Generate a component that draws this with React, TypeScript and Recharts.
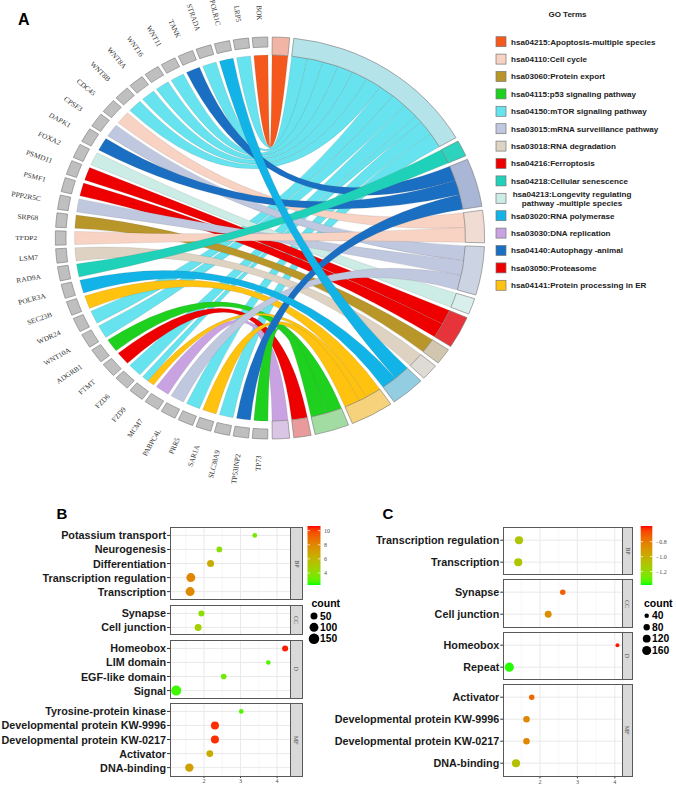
import React from "react";
import {
  PieChart, Pie, Cell, Customized,
  ScatterChart, Scatter, XAxis, YAxis, ZAxis, ReferenceLine,
} from "recharts";

/* ================= Panel A : chord data ================= */
const genes = [
  "BOK", "LRP5", "POLR1C", "STRADA", "TANK", "WNT11", "WNT16", "WNT8A", "WNT8B",
  "CDC45", "CPSF3", "DAPK1", "FOXA2", "PSMD11", "PSMF1", "PPP2R5C", "SRP68",
  "TFDP2", "LSM7", "RAD9A", "POLR3A", "SEC23B", "WDR24", "WNT10A", "ADGRB1",
  "FTMT", "FZD6", "FZD9", "MCM7", "PABPC4L", "PRR5", "SAR1A", "SLC38A9",
  "TP53INP2", "TP73",
];

// pathway sectors, clockwise from the top
const pathwayIds = [
  "hsa04215", "hsa04150", "hsa04218", "hsa04140", "hsa04110", "hsa03015",
  "hsa04213", "hsa03050", "hsa03060", "hsa03018", "hsa03020", "hsa04141",
  "hsa04115", "hsa04216", "hsa03030",
];
const pathwayLabels = [
  "hsa04215:Apoptosis-multiple species",
  "hsa04150:mTOR signaling pathway",
  "hsa04218:Cellular senescence",
  "hsa04140:Autophagy -animal",
  "hsa04110:Cell cycle",
  "hsa03015:mRNA surveillance pathway",
  "hsa04213:Longevity regulating\npathway -multiple species",
  "hsa03050:Proteasome",
  "hsa03060:Protein export",
  "hsa03018:RNA degradation",
  "hsa03020:RNA polymerase",
  "hsa04141:Protein processing in ER",
  "hsa04115:p53 signaling pathway",
  "hsa04216:Ferroptosis",
  "hsa03030:DNA replication",
];
const legendOrder = [
  "hsa04215", "hsa04110", "hsa03060", "hsa04115", "hsa04150", "hsa03015",
  "hsa03018", "hsa04216", "hsa04218", "hsa04213", "hsa03020", "hsa03030",
  "hsa04140", "hsa03050", "hsa04141",
];
// gene -> pathway links (weight)
const links: Array<[string, string, number]> = [
  ["BOK", "hsa04215", 1], ["LRP5", "hsa04150", 1], ["POLR1C", "hsa03020", 1],
  ["STRADA", "hsa04150", 1], ["TANK", "hsa04140", 1], ["WNT11", "hsa04150", 1],
  ["WNT16", "hsa04150", 1], ["WNT8A", "hsa04150", 1], ["WNT8B", "hsa04150", 1],
  ["CDC45", "hsa04110", 1], ["CPSF3", "hsa03015", 1], ["DAPK1", "hsa04140", 1],
  ["FOXA2", "hsa04213", 1], ["PSMD11", "hsa03050", 1], ["PSMF1", "hsa03050", 1],
  ["PPP2R5C", "hsa03015", 1], ["SRP68", "hsa03060", 1], ["TFDP2", "hsa04110", 1],
  ["LSM7", "hsa03018", 1], ["RAD9A", "hsa04218", 1], ["POLR3A", "hsa03020", 1],
  ["SEC23B", "hsa04141", 1], ["WDR24", "hsa04150", 1], ["WNT10A", "hsa04150", 1],
  ["ADGRB1", "hsa04115", 1], ["FTMT", "hsa04216", 1], ["FZD6", "hsa04150", 1],
  ["FZD9", "hsa04150", 0.5], ["FZD9", "hsa04141", 0.5], ["MCM7", "hsa03030", 1],
  ["PABPC4L", "hsa03015", 1], ["PRR5", "hsa04150", 1], ["SAR1A", "hsa04141", 1],
  ["SLC38A9", "hsa04150", 1], ["TP53INP2", "hsa04140", 1], ["TP73", "hsa04115", 1],
];

/* styles for panel A (same order as pathwayIds) */
const ribbonColors = [
  "#f4581c", "#66e3ee", "#1fd1b9", "#1a6fc2", "#f8d2c2", "#c0c8e0", "#ccede6",
  "#ee0000", "#b8962a", "#ded3c3", "#12b3e6", "#ffc20e", "#1fd11f", "#ee0000", "#c9a2e2",
];
const arcColors = [
  "#f2b5a5", "#b4e3ea", "#2dd3bd", "#a9b6d6", "#f1dcd4", "#ccd3e2", "#d9efec",
  "#e6343a", "#d3c6ae", "#dedad4", "#93cde2", "#f6d27c", "#a3dca3", "#e99a9a", "#dac5e6",
];

/* ================= Panel B data ================= */
const facetNames = ["BP", "CC", "D", "MF"];

const termsB_BP = ["Potassium transport", "Neurogenesis", "Differentiation", "Transcription regulation", "Transcription"];
const foldB_BP = [3.39, 2.42, 2.18, 1.64, 1.62];
const countB_BP = [8, 23, 50, 100, 102];
const colorB_BP = [3.5, 4.0, 6.5, 8.0, 7.9];

const termsB_CC = ["Synapse", "Cell junction"];
const foldB_CC = [1.93, 1.84];
const countB_CC = [30, 48];
const colorB_CC = [4.0, 4.8];

const termsB_D = ["Homeobox", "LIM domain", "EGF-like domain", "Signal"];
const foldB_D = [4.22, 3.76, 2.54, 1.24];
const countB_D = [30, 5, 22, 135];
const colorB_D = [10.5, 2.8, 3.3, 2.6];

const termsB_MF = ["Tyrosine-protein kinase", "Developmental protein KW-9996", "Developmental protein KW-0217", "Activator", "DNA-binding"];
const foldB_MF = [3.02, 2.3, 2.3, 2.16, 1.6];
const countB_MF = [6, 75, 75, 45, 85];
const colorB_MF = [2.8, 10.3, 10.3, 6.5, 7.0];

const colorBreaksB = [4, 6, 8, 10];
const countBreaksB = [50, 100, 150];

/* ================= Panel C data ================= */
const termsC_BP = ["Transcription regulation", "Transcription"];
const foldC_BP = [1.44, 1.42];
const countC_BP = [130, 130];
const colorC_BP = [-1.1, -1.1];

const termsC_CC = ["Synapse", "Cell junction"];
const foldC_CC = [2.61, 2.22];
const countC_CC = [60, 95];
const colorC_CC = [-0.72, -0.87];

const termsC_D = ["Homeobox", "Repeat"];
const foldC_D = [4.07, 1.18];
const countC_D = [30, 165];
const colorC_D = [-0.6, -1.37];

const termsC_MF = ["Activator", "Developmental protein KW-9996", "Developmental protein KW-0217", "DNA-binding"];
const foldC_MF = [1.78, 1.64, 1.64, 1.36];
const countC_MF = [60, 85, 85, 130];
const colorC_MF = [-0.74, -0.84, -0.84, -1.08];

const colorBreaksC = [-0.8, -1.0, -1.2];
const countBreaksC = [40, 80, 120, 160];

/* ================= helpers ================= */
const SANS = "'Liberation Sans', Arial, sans-serif";
const SERIF = "'Liberation Serif', 'Times New Roman', serif";

function hexToRgb(h: string) {
  const n = parseInt(h.slice(1), 16);
  return [(n >> 16) & 255, (n >> 8) & 255, n & 255];
}
function toLab(hex: string) {
  const lin = hexToRgb(hex).map((c) => {
    const v = c / 255;
    return v <= 0.04045 ? v / 12.92 : Math.pow((v + 0.055) / 1.055, 2.4);
  });
  const [r, g, b] = lin;
  const X = (0.4124564 * r + 0.3575761 * g + 0.1804375 * b) / 0.95047;
  const Y = 0.2126729 * r + 0.7151522 * g + 0.072175 * b;
  const Z = (0.0193339 * r + 0.119192 * g + 0.9503041 * b) / 1.08883;
  const f = (t: number) => (t > 0.008856 ? Math.cbrt(t) : 7.787 * t + 16 / 116);
  const fx = f(X), fy = f(Y), fz = f(Z);
  return [116 * fy - 16, 500 * (fx - fy), 200 * (fy - fz)];
}
function fromLab([L, a, b]: number[]) {
  const fy = (L + 16) / 116, fx = fy + a / 500, fz = fy - b / 200;
  const inv = (t: number) => (t * t * t > 0.008856 ? t * t * t : (t - 16 / 116) / 7.787);
  const X = inv(fx) * 0.95047, Y = inv(fy), Z = inv(fz) * 1.08883;
  const lin = [
    3.2404542 * X - 1.5371385 * Y - 0.4985314 * Z,
    -0.969266 * X + 1.8760108 * Y + 0.041556 * Z,
    0.0556434 * X - 0.2040259 * Y + 1.0572252 * Z,
  ];
  const s = lin.map((v) => {
    const c = Math.max(0, Math.min(1, v));
    const g = c <= 0.0031308 ? 12.92 * c : 1.055 * Math.pow(c, 1 / 2.4) - 0.055;
    return Math.round(g * 255);
  });
  return `rgb(${s[0]},${s[1]},${s[2]})`;
}
const LAB_LOW = toLab("#00ff00");
const LAB_HIGH = toLab("#ff0000");
function gradT(t: number) {
  const u = Math.max(0, Math.min(1, t));
  return fromLab(LAB_LOW.map((v, i) => v + (LAB_HIGH[i] - v) * u));
}
function gradColor(v: number, dom: [number, number]) {
  return gradT((v - dom[0]) / (dom[1] - dom[0]));
}

/* ================= chord geometry ================= */
const CX = 270, CY = 238;
const R_OUT = 201, R_GENE_IN = 191, R_RIB = 183, R_LABEL = 218;
const GENE_START = 90.6, GENE_END = 269.4, GENE_PAD = 1.0;
const PW_START = 89.4, PW_END = -89.4, PW_PAD = 1.1;

const geneWeights = genes.map((g) => links.filter((l) => l[0] === g).reduce((a, l) => a + l[2], 0));
const pathWeights = pathwayIds.map((p) => links.filter((l) => l[1] === p).reduce((a, l) => a + l[2], 0));

// same arithmetic as the Pie sector layout
function layoutAngles(values: number[], start: number, end: number, pad: number) {
  const sign = Math.sign(end - start);
  const sum = values.reduce((a, b) => a + b, 0);
  const real = Math.abs(end - start) - (values.length - 1) * pad;
  const out: { s: number; e: number }[] = [];
  let prev = start;
  values.forEach((v, i) => {
    const s = i === 0 ? start : prev + sign * pad;
    const e = s + sign * (v / sum) * real;
    out.push({ s, e });
    prev = e;
  });
  return out;
}

function pt(r: number, deg: number) {
  const rad = (deg * Math.PI) / 180;
  return `${(CX + r * Math.cos(rad)).toFixed(2)},${(CY - r * Math.sin(rad)).toFixed(2)}`;
}

function RibbonLayer() {
  const gA = layoutAngles(geneWeights, GENE_START, GENE_END, GENE_PAD);
  const pA = layoutAngles(pathWeights, PW_START, PW_END, PW_PAD);
  const items = links.map(([g, p, w]) => ({ gi: genes.indexOf(g), pi: pathwayIds.indexOf(p), w }));
  const gOff = genes.map(() => 0);
  const pOff = pathwayIds.map(() => 0);
  const gSlot: number[][] = [];
  const pSlot: number[][] = [];
  items.map((_, k) => k)
    .sort((a, b) => items[a].gi - items[b].gi || items[a].pi - items[b].pi)
    .forEach((k) => {
      const { gi, w } = items[k];
      const { s, e } = gA[gi];
      const unit = (e - s) / geneWeights[gi];
      const a1 = s + gOff[gi] * unit;
      gSlot[k] = [a1, a1 + w * unit];
      gOff[gi] += w;
    });
  items.map((_, k) => k)
    .sort((a, b) => items[a].gi - items[b].gi)
    .forEach((k) => {
      const { pi, w } = items[k];
      const { s, e } = pA[pi];
      const unit = (s - e) / pathWeights[pi];
      const b1 = s - pOff[pi] * unit;
      pSlot[k] = [b1, b1 - w * unit];
      pOff[pi] += w;
    });
  const rank = (pi: number) => (pathwayIds[pi] === "hsa04150" ? 0 : pathwayIds[pi] === "hsa03020" ? 2 : 1);
  const order = items.map((_, k) => k).sort((a, b) => rank(items[a].pi) - rank(items[b].pi) || a - b);
  const r = R_RIB;
  return (
    <g>
      {order.map((k) => {
        const [a1, a2] = gSlot[k];
        const [b1, b2] = pSlot[k];
        const d = `M${pt(r, a2)} A${r},${r} 0 0 1 ${pt(r, a1)} Q${CX},${CY} ${pt(r, b1)} A${r},${r} 0 0 1 ${pt(r, b2)} Q${CX},${CY} ${pt(r, a2)} Z`;
        return (
          <path key={k} d={d} fill={ribbonColors[items[k].pi]} stroke="rgba(90,90,90,0.35)" strokeWidth={0.4} />
        );
      })}
    </g>
  );
}

const renderGeneLabel = (props: any) => {
  const mid = props.midAngle as number;
  const name = props.name ?? genes[props.index];
  const rad = (mid * Math.PI) / 180;
  const x = props.cx + R_LABEL * Math.cos(rad);
  const y = props.cy - R_LABEL * Math.sin(rad);
  const rot = 180 - mid;
  return (
    <text x={x} y={y} transform={`rotate(${rot},${x},${y})`} textAnchor="end" dominantBaseline="central"
      fontSize={7} fontFamily={SERIF} fill="#333">
      {name}
    </text>
  );
};

function ChordPanel() {
  const geneData = genes.map((g, i) => ({ name: g, value: geneWeights[i] }));
  const pathData = pathwayIds.map((p, i) => ({ name: p, value: pathWeights[i] }));
  return (
    <div style={{ position: "absolute", left: 0, top: 0, width: 540, height: 500, transform: "scaleX(1.068)", transformOrigin: `${CX}px ${CY}px` }}>
      <PieChart width={540} height={500} margin={{ top: 0, right: 0, bottom: 0, left: 0 }}>
        <Customized component={RibbonLayer} />
        <Pie data={geneData} dataKey="value" nameKey="name" cx={CX} cy={CY} innerRadius={R_GENE_IN} outerRadius={R_OUT}
          startAngle={GENE_START} endAngle={GENE_END} paddingAngle={GENE_PAD} isAnimationActive={false}
          label={renderGeneLabel} labelLine={false}>
          {geneData.map((d) => (
            <Cell key={d.name} fill="#bfbfbf" stroke="#7a7a7a" strokeWidth={0.6} />
          ))}
        </Pie>
        <Pie data={pathData} dataKey="value" nameKey="name" cx={CX} cy={CY} innerRadius={R_RIB} outerRadius={R_OUT}
          startAngle={PW_START} endAngle={PW_END} paddingAngle={PW_PAD} isAnimationActive={false}>
          {pathData.map((d, i) => (
            <Cell key={d.name} fill={arcColors[i]} stroke="#7a7a7a" strokeWidth={0.6} />
          ))}
        </Pie>
      </PieChart>
    </div>
  );
}

/* ================= dot-plot facets ================= */
type FacetProps = {
  left: number; top: number; yw: number; pw: number; sw: number; h: number;
  terms: string[]; xs: number[]; counts: number[]; vals: number[];
  xDomain: [number, number]; cDomain: [number, number]; zRange: [number, number];
  strip: string; showX: boolean;
};

function Facet(p: FacetProps) {
  const data = p.terms.map((t, i) => ({ x: p.xs[i], y: i, z: p.counts[i], v: p.vals[i], name: t }));
  const axisH = p.showX ? 12 : 0;
  const n = p.terms.length;
  const majorX = [2, 3, 4];
  const minorX = [1.5, 2.5, 3.5];
  return (
    <div style={{ position: "absolute", left: p.left, top: p.top, width: p.yw + p.pw + p.sw, height: p.h + axisH }}>
      <ScatterChart width={p.yw + p.pw} height={p.h + axisH} margin={{ top: 0, right: 0, bottom: 0, left: 0 }}>
        <XAxis type="number" dataKey="x" domain={p.xDomain} ticks={majorX} allowDataOverflow hide={!p.showX}
          height={axisH} tickSize={2} tickMargin={1} axisLine={false} tickLine={{ stroke: "#333" }}
          tick={{ fontSize: 6, fill: "#4d4d4d", fontFamily: SERIF }} />
        <YAxis type="number" dataKey="y" domain={[-0.6, n - 0.4]} reversed allowDataOverflow
          ticks={p.terms.map((_, i) => i)} interval={0} width={p.yw} axisLine={false} tickSize={3} tickMargin={1}
          tickLine={{ stroke: "#333" }}
          tick={(tp: any) => (
            <text x={tp.x} y={tp.y} textAnchor="end" dominantBaseline="central" fontSize={10.8}
              fontWeight="bold" fill="#1a1a1a" fontFamily={SANS}>
              {p.terms[tp.payload.value]}
            </text>
          )} />
        <ZAxis type="number" dataKey="z" domain={[0, 200]} range={p.zRange} />
        {minorX.filter((v) => v > p.xDomain[0] && v < p.xDomain[1]).map((v) => (
          <ReferenceLine key={"mn" + v} x={v} stroke="#f2f2f2" strokeWidth={0.6} />
        ))}
        {majorX.map((v) => (
          <ReferenceLine key={"mj" + v} x={v} stroke="#e6e6e6" strokeWidth={0.9} />
        ))}
        {data.map((d) => (
          <ReferenceLine key={"hy" + d.y} y={d.y} stroke="#e6e6e6" strokeWidth={0.9} />
        ))}
        <Scatter data={data} isAnimationActive={false} shape="circle">
          {data.map((d, i) => (
            <Cell key={i} fill={gradColor(d.v, p.cDomain)} />
          ))}
        </Scatter>
      </ScatterChart>
      <div style={{ position: "absolute", left: p.yw, top: 0, width: p.pw, height: p.h, border: "1px solid #595959", boxSizing: "border-box", pointerEvents: "none" }} />
      <div style={{ position: "absolute", left: p.yw + p.pw - 1, top: 0, width: p.sw + 1, height: p.h, background: "#d9d9d9", border: "1px solid #595959", boxSizing: "border-box", display: "flex", alignItems: "center", justifyContent: "center" }}>
        <span style={{ display: "inline-block", transform: "rotate(90deg)", fontSize: 6, color: "#444", fontFamily: SERIF, whiteSpace: "nowrap" }}>{p.strip}</span>
      </div>
    </div>
  );
}

function DotPanel(props: {
  left: number; top: number; gap: number; step: number; yw: number; pw: number; sw: number;
  terms: string[][]; xs: number[][]; counts: number[][]; vals: number[][];
  xDomain: [number, number]; cDomain: [number, number]; zRange: [number, number];
}) {
  let y = props.top;
  const out: React.ReactNode[] = [];
  props.terms.forEach((t, i) => {
    const h = (t.length + 0.2) * props.step;
    out.push(
      <Facet key={i} left={props.left} top={y} yw={props.yw} pw={props.pw} sw={props.sw} h={h}
        terms={t} xs={props.xs[i]} counts={props.counts[i]} vals={props.vals[i]}
        xDomain={props.xDomain} cDomain={props.cDomain} zRange={props.zRange}
        strip={facetNames[i]} showX={i === props.terms.length - 1} />
    );
    y += h + props.gap;
  });
  return <>{out}</>;
}

/* ================= legends / decorations ================= */
const Z_RANGE_B: [number, number] = [14.45, 111.2];
const Z_RANGE_C: [number, number] = [0, 79.8];
const C_DOM_B: [number, number] = [2.3, 10.66];
const C_DOM_C: [number, number] = [-1.38, -0.59];

function sizeR(c: number, zr: [number, number]) {
  return Math.sqrt((zr[0] + ((zr[1] - zr[0]) * c) / 200) / Math.PI);
}

function ColorBar({ id, x, y, w, h, dom, breaks, fmt }: { id: string; x: number; y: number; w: number; h: number; dom: [number, number]; breaks: number[]; fmt: (v: number) => string }) {
  const stops = Array.from({ length: 21 }, (_, i) => i / 20);
  return (
    <g>
      <defs>
        <linearGradient id={id} x1="0" y1="1" x2="0" y2="0">
          {stops.map((t) => (
            <stop key={t} offset={`${t * 100}%`} stopColor={gradT(t)} />
          ))}
        </linearGradient>
      </defs>
      <rect x={x} y={y} width={w} height={h} fill={`url(#${id})`} />
      {breaks.map((b) => {
        const ty = y + ((dom[1] - b) / (dom[1] - dom[0])) * h;
        return (
          <g key={b}>
            <line x1={x} x2={x + w / 5} y1={ty} y2={ty} stroke="#fff" strokeWidth={0.7} />
            <line x1={x + (4 * w) / 5} x2={x + w} y1={ty} y2={ty} stroke="#fff" strokeWidth={0.7} />
            <text x={x + w + 3.5} y={ty + 2} fontSize={6} fill="#4d4d4d" fontFamily={SERIF}>{fmt(b)}</text>
          </g>
        );
      })}
    </g>
  );
}

function SizeLegend({ x, y, cx, lx, ys, breaks, zr }: { x: number; y: number; cx: number; lx: number; ys: number[]; breaks: number[]; zr: [number, number] }) {
  return (
    <g>
      <text x={x} y={y} fontSize={10.5} fontWeight="bold" fontFamily={SANS} fill="#000">count</text>
      {breaks.map((b, i) => (
        <g key={b}>
          <circle cx={cx} cy={ys[i]} r={sizeR(b, zr)} fill="#000" />
          <text x={lx} y={ys[i] + 3.7} fontSize={10.3} fontWeight="bold" fontFamily={SANS} fill="#000">{b}</text>
        </g>
      ))}
    </g>
  );
}

function Overlay() {
  return (
    <svg width={676} height={788} style={{ position: "absolute", left: 0, top: 0, pointerEvents: "none" }}>
      <text x={18} y={25} fontSize={16} fontWeight="bold" fontFamily={SANS}>A</text>
      <text x={56.5} y={518.5} fontSize={15} fontWeight="bold" fontFamily={SANS}>B</text>
      <text x={382.5} y={518.5} fontSize={15} fontWeight="bold" fontFamily={SANS}>C</text>

      <text x={567.5} y={17} fontSize={8} fontWeight="bold" fontFamily={SANS} textAnchor="middle" fill="#222">GO Terms</text>
      {legendOrder.map((id, i) => {
        const pi = pathwayIds.indexOf(id);
        const c = 41.7 + i * 17.4;
        const lines = pathwayLabels[pi].split("\n");
        return (
          <g key={id}>
            <rect x={496} y={c - 5} width={10} height={10} fill={ribbonColors[pi]} stroke="#777" strokeWidth={0.7} />
            {lines.length === 1 ? (
              <text x={511} y={c + 2.9} fontSize={8.1} fontWeight="bold" fontFamily={SANS} fill="#222">{lines[0]}</text>
            ) : (
              <text fontSize={8.1} fontWeight="bold" fontFamily={SANS} fill="#222" textAnchor="middle">
                <tspan x={572} y={c - 4 + 2.9}>{lines[0]}</tspan>
                <tspan x={572} y={c + 4.3 + 2.9}>{lines[1]}</tspan>
              </text>
            )}
          </g>
        );
      })}

      <ColorBar id="gB" x={307.5} y={526} w={13} h={59} dom={C_DOM_B} breaks={colorBreaksB} fmt={(v) => String(v)} />
      <SizeLegend x={311.5} y={607.3} cx={314} lx={320} ys={[616, 627.3, 638.7]} breaks={countBreaksB} zr={Z_RANGE_B} />

      <ColorBar id="gC" x={640.7} y={526} w={11.6} h={59} dom={C_DOM_C} breaks={colorBreaksC} fmt={(v) => "\u2212" + Math.abs(v).toFixed(1)} />
      <SizeLegend x={644} y={607.3} cx={646.7} lx={652} ys={[615.7, 627.3, 638.7, 650.5]} breaks={countBreaksC} zr={Z_RANGE_C} />
    </svg>
  );
}

export default function App() {
  return (
    <div style={{ position: "absolute", left: 0, top: 0, width: 676, height: 788, overflow: "hidden", background: "#fff" }}>
      <ChordPanel />
      <DotPanel left={0} top={527} gap={4.5} step={14.05} yw={170} pw={121} sw={11.5}
        terms={[termsB_BP, termsB_CC, termsB_D, termsB_MF]}
        xs={[foldB_BP, foldB_CC, foldB_D, foldB_MF]}
        counts={[countB_BP, countB_CC, countB_D, countB_MF]}
        vals={[colorB_BP, colorB_CC, colorB_D, colorB_MF]}
        xDomain={[1.07, 4.38]} cDomain={C_DOM_B} zRange={Z_RANGE_B} />
      <DotPanel left={323} top={527} gap={4} step={22} yw={180.3} pw={119.4} sw={10.6}
        terms={[termsC_BP, termsC_CC, termsC_D, termsC_MF]}
        xs={[foldC_BP, foldC_CC, foldC_D, foldC_MF]}
        counts={[countC_BP, countC_CC, countC_D, countC_MF]}
        vals={[colorC_BP, colorC_CC, colorC_D, colorC_MF]}
        xDomain={[1.02, 4.21]} cDomain={C_DOM_C} zRange={Z_RANGE_C} />
      <Overlay />
    </div>
  );
}
